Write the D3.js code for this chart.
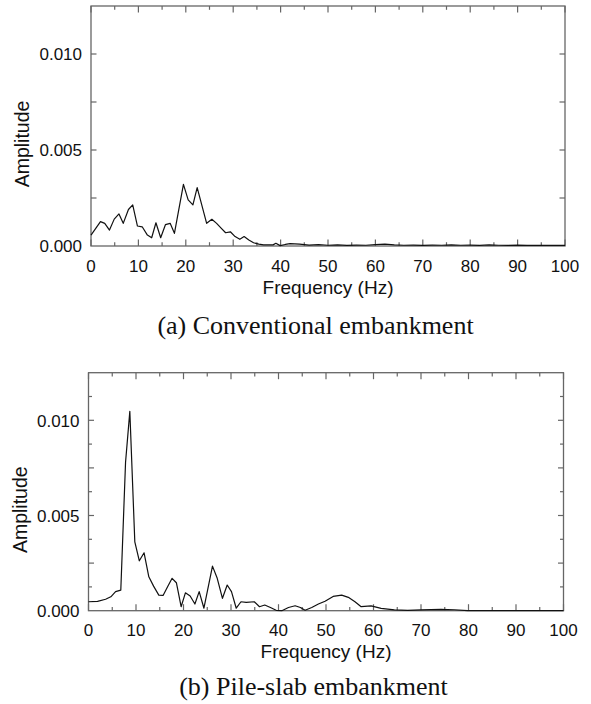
<!DOCTYPE html>
<html>
<head>
<meta charset="utf-8">
<script src="https://cdn.jsdelivr.net/npm/d3@7/dist/d3.min.js"></script>
<style>
  html, body { margin: 0; padding: 0; background: #fff; }
  svg { display: block; }
</style>
</head>
<body>
<svg id="chart" width="591" height="704"></svg>
<script>
// ---- Data ----
const freqA = [0, 2.0, 2.9, 3.9, 4.9, 5.9, 6.8, 7.9, 8.8, 9.8, 10.8, 11.9, 12.8, 13.7, 14.7, 15.7, 16.7, 17.6,
  19.5, 20.5, 21.5, 22.4, 24.4, 25.5, 26.5, 27.5, 28.4, 29.4, 30.4, 31.4, 32.3, 33.3, 34.3, 35.4, 36.4, 37.4,
  38.4, 39.0, 39.9, 41, 42, 44, 46, 48, 50, 52, 54, 56, 58, 60, 62, 64, 66, 68, 70, 72, 74, 76, 78, 80, 82,
  84, 86, 88, 90, 92, 94, 96, 98, 100];
const ampA = [0.00057, 0.00127, 0.00118, 0.00083, 0.00140, 0.00167, 0.00118, 0.00190, 0.00214, 0.00104, 0.00100,
  0.00057, 0.00043, 0.00121, 0.00043, 0.00111, 0.00118, 0.00066, 0.00321, 0.00240, 0.00214, 0.00304, 0.00118,
  0.00139, 0.00118, 0.00092, 0.00069, 0.00074, 0.00049, 0.00035, 0.00049, 0.00031, 0.00017, 0.00010, 0.00006,
  0.00006, 0.00006, 0.00014, 0.00002, 0.00008, 0.00012, 0.00010, 0.00005, 0.00007, 0.00004, 0.00006, 0.00003,
  0.00005, 0.00004, 0.00007, 0.00010, 0.00006, 0.00004, 0.00005, 0.00003, 0.00005, 0.00004, 0.00006, 0.00004,
  0.00005, 0.00003, 0.00006, 0.00004, 0.00003, 0.00005, 0.00003, 0.00004, 0.00003, 0.00004, 0.00003];

const freqB = [0, 1.9, 3.6, 4.7, 5.7, 6.8, 7.8, 8.7, 9.75, 10.7, 11.7, 12.7, 13.7, 14.8, 15.7, 16.65, 17.6, 18.5,
  19.5, 20.4, 21.4, 22.4, 23.3, 24.3, 26.1, 27.1, 28.2, 29.2, 30.1, 31.1, 32.1, 33.2, 34.9, 36.0, 37.1, 38.3,
  39.5, 40.7, 42.1, 43.5, 44.6, 45.6, 47.0, 48.4, 49.8, 51.5, 53.3, 54.7, 56.1, 57.4, 59.5, 61.6, 64.4, 67.2,
  70, 74.2, 77, 79.8, 85, 90, 95, 100];
const ampB = [0.00047, 0.00049, 0.00060, 0.00073, 0.00100, 0.00108, 0.00780, 0.01047, 0.00361, 0.00262, 0.00304,
  0.00178, 0.00129, 0.00082, 0.00080, 0.00126, 0.00170, 0.00147, 0.00021, 0.00094, 0.00077, 0.00035, 0.00100,
  0.00013, 0.00234, 0.00170, 0.00065, 0.00135, 0.00100, 0.00013, 0.00047, 0.00044, 0.00047, 0.00021, 0.00030,
  0.00017, 0.00002, 0.00000, 0.00017, 0.00026, 0.00017, 0.00002, 0.00017, 0.00035, 0.00050, 0.00075, 0.00082,
  0.00070, 0.00047, 0.00021, 0.00025, 0.00012, 0.00004, 0.00002, 0.00004, 0.00007, 0.00005, 0.00000, 0.00000,
  0.00000, 0.00000, 0.00000];

const xTickValues = [0, 10, 20, 30, 40, 50, 60, 70, 80, 90, 100];
const yTickValues = [0.000, 0.005, 0.010];
const xTitle = "Frequency (Hz)";
const yTitle = "Amplitude";
const captions = ["(a) Conventional embankment", "(b) Pile-slab embankment"];

// ---- Drawing ----
const svg = d3.select("#chart");
const frameColor = "#666";

function panel(cfg) {
  const x = d3.scaleLinear().domain([0, 100]).range([cfg.left, cfg.right]);
  const y = d3.scaleLinear().domain([0, 0.0125]).range([cfg.bottom, cfg.top]);
  const g = svg.append("g");

  // frame
  g.append("rect")
    .attr("x", cfg.left).attr("y", cfg.top)
    .attr("width", cfg.right - cfg.left).attr("height", cfg.bottom - cfg.top)
    .attr("fill", "none").attr("stroke", frameColor).attr("stroke-width", 1.3);

  // x ticks (bottom and top, inward)
  const xMinor = d3.range(5, 100, 10);
  const ticks = g.append("g").attr("stroke", frameColor).attr("stroke-width", 1.2);
  xTickValues.forEach(v => {
    ticks.append("line").attr("x1", x(v)).attr("x2", x(v)).attr("y1", cfg.bottom).attr("y2", cfg.bottom - 6.5);
    ticks.append("line").attr("x1", x(v)).attr("x2", x(v)).attr("y1", cfg.top).attr("y2", cfg.top + 6.5);
  });
  xMinor.forEach(v => {
    ticks.append("line").attr("x1", x(v)).attr("x2", x(v)).attr("y1", cfg.bottom).attr("y2", cfg.bottom - 3.8);
    ticks.append("line").attr("x1", x(v)).attr("x2", x(v)).attr("y1", cfg.top).attr("y2", cfg.top + 3.8);
  });
  // y ticks (left and right, inward)
  cfg.yMajor.forEach(v => {
    ticks.append("line").attr("x1", cfg.left).attr("x2", cfg.left + 5.5).attr("y1", y(v)).attr("y2", y(v));
    ticks.append("line").attr("x1", cfg.right).attr("x2", cfg.right - 5.5).attr("y1", y(v)).attr("y2", y(v));
  });
  cfg.yMinor.forEach(v => {
    ticks.append("line").attr("x1", cfg.left).attr("x2", cfg.left + 3.5).attr("y1", y(v)).attr("y2", y(v));
    ticks.append("line").attr("x1", cfg.right).attr("x2", cfg.right - 3.5).attr("y1", y(v)).attr("y2", y(v));
  });

  // tick labels
  const lab = g.append("g").attr("font-family", "Liberation Sans, Arial, sans-serif")
    .attr("font-size", 17).attr("fill", "#111");
  xTickValues.forEach(v => {
    lab.append("text").attr("x", x(v)).attr("y", cfg.bottom + 25.5)
      .attr("text-anchor", "middle").text(String(v));
  });
  yTickValues.forEach(v => {
    lab.append("text").attr("x", cfg.left - 9).attr("y", y(v) + 6.3)
      .attr("text-anchor", "end").text(d3.format(".3f")(v));
  });

  // axis titles
  g.append("text").attr("x", (cfg.left + cfg.right) / 2).attr("y", cfg.bottom + 47.5)
    .attr("text-anchor", "middle").attr("font-family", "Liberation Sans, Arial, sans-serif")
    .attr("font-size", 19).attr("fill", "#111").text(xTitle);
  const ty = (cfg.top + cfg.bottom) / 2 + 18;
  g.append("text").attr("transform", `translate(${cfg.left - 62},${ty}) rotate(-90)`)
    .attr("text-anchor", "middle").attr("font-family", "Liberation Sans, Arial, sans-serif")
    .attr("font-size", 19.5).attr("fill", "#111").text(yTitle);

  // caption
  g.append("text").attr("x", (cfg.left + cfg.right) / 2 - 12.5).attr("y", cfg.bottom + cfg.capOffset)
    .attr("text-anchor", "middle").attr("font-family", "Liberation Serif, Times New Roman, serif")
    .attr("font-size", 26).attr("fill", "#111").text(cfg.caption);

  // data line
  const line = d3.line().x(d => x(d[0])).y(d => y(d[1]));
  g.append("path").datum(d3.zip(cfg.freq, cfg.amp))
    .attr("d", line).attr("fill", "none").attr("stroke", "#111").attr("stroke-width", 1.2)
    .attr("stroke-linejoin", "round");
}

panel({
  left: 91, right: 565, top: 6, bottom: 246, capOffset: 88,
  freq: freqA, amp: ampA, caption: captions[0],
  yMajor: [0.0025, 0.005, 0.0075, 0.010], yMinor: []
});
panel({
  left: 88.5, right: 563.5, top: 372.7, bottom: 610.7, capOffset: 84.5,
  freq: freqB, amp: ampB, caption: captions[1],
  yMajor: [0.0025, 0.005, 0.0075, 0.010], yMinor: [0.00125, 0.00375, 0.00625, 0.00875, 0.01125]
});
</script>
</body>
</html>
